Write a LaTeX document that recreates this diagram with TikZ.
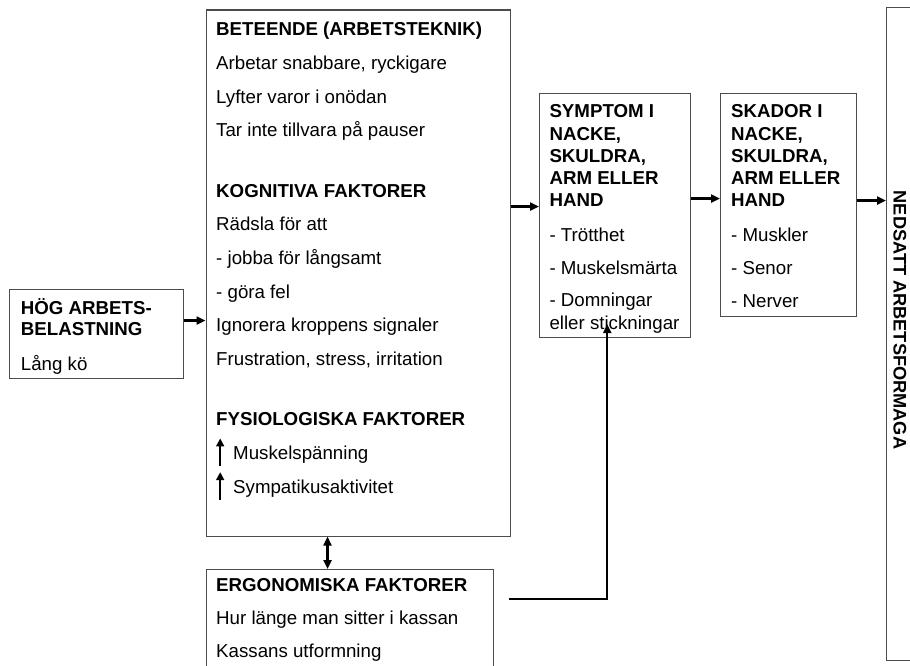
\documentclass[tikz,border=0pt]{standalone}
\usepackage{fontspec}
\setmainfont{Liberation Sans}
\usetikzlibrary{arrows.meta,positioning}
\newcommand{\upmark}{\tikz[baseline=0pt,x=1pt,y=1pt]\draw[line width=1.8pt,-{Triangle[length=8pt,width=8pt]}] (0,-7) -- (0,21);}

\begin{document}
\begin{tikzpicture}[x=1pt, y=-1pt,
    box/.style={draw=black!70, line width=1.1pt, inner sep=0pt, anchor=north west},
    txt/.style={anchor=north west, inner sep=0pt, align=left, font=\fontsize{18.7}{#1}\selectfont,
        execute at begin node={\rule{0pt}{17pt}}},
    conn/.style={line width=2.2pt, -{Triangle[length=9pt,width=8pt]}},
    link/.style={line width=2.2pt, {Triangle[length=9pt,width=8pt]}-{Triangle[length=9pt,width=8pt]}}]
    \useasboundingbox (0,0) rectangle (910,666);

    % boxes
    \node[box, minimum width=173.4, minimum height=88.4] (hog) at (9.3,289.3) {};
    \node[box, minimum width=304, minimum height=526] (mid) at (205.5,9.5) {};
    \node[box, minimum width=151, minimum height=244] (sym) at (539,93) {};
    \node[box, minimum width=136, minimum height=223] (skad) at (720,93) {};
    \node[box, minimum width=60, minimum height=653] (ned) at (886,7) {};
    \node[box, minimum width=287, minimum height=120] (ergo) at (205.5,569) {};

    % texts
    \node[txt=21] (hogtxt) at (20.7,298.7) {\textbf{HÖG ARBETS-}\\\textbf{BELASTNING}\\[14pt]Lång kö};
    \node[txt=33.7] (midtxt) at (216,22) {\textbf{BETEENDE (ARBETSTEKNIK)}\\Arbetar snabbare, ryckigare\\Lyfter varor i onödan\\Tar inte tillvara på pauser\\[26.5pt]\textbf{KOGNITIVA FAKTORER}\\Rädsla för att\\- jobba för långsamt\\- göra fel\\Ignorera kroppens signaler\\Frustration, stress, irritation\\[26.5pt]\textbf{FYSIOLOGISKA FAKTORER}\\\upmark\hspace{9pt}Muskelspänning\\\upmark\hspace{9pt}Sympatikusaktivitet};
    \node[txt=22.3] (symtxt) at (549.3,104.5) {\textbf{SYMPTOM I}\\\textbf{NACKE,}\\\textbf{SKULDRA,}\\\textbf{ARM ELLER}\\\textbf{HAND}\\[12.7pt]- Trötthet\\[10.7pt]- Muskelsmärta\\[9.7pt]- Domningar\\eller stickningar};
    \node[txt=22.3] (skadtxt) at (731,104.5) {\textbf{SKADOR I}\\\textbf{NACKE,}\\\textbf{SKULDRA,}\\\textbf{ARM ELLER}\\\textbf{HAND}\\[12.7pt]- Muskler\\[10.7pt]- Senor\\[10.7pt]- Nerver};
    \node[txt=33] (ergotxt) at (216,578.7) {\textbf{ERGONOMISKA FAKTORER}\\Hur länge man sitter i kassan\\Kassans utformning};
    \node[font=\bfseries\fontsize{18.2}{22}\selectfont, rotate=-90, inner sep=0pt] (nedtxt) at (900,320) {NEDSATT ARBETSFORMAGA};

    % connectors
    \draw[conn] ([yshift=13.5pt]hog.east) -- ([yshift=13.5pt]hog.east -| mid.west);
    \draw[conn] ([yshift=9pt]sym.west -| mid.east) -- ([yshift=9pt]sym.west);
    \draw[conn] ([yshift=17pt]sym.east) -- ([yshift=17pt]sym.east -| skad.west);
    \draw[conn] ([yshift=4.5pt]skad.east) -- ([yshift=4.5pt]skad.east -| ned.west);
    \draw[link] ([xshift=-30.5pt]mid.south) -- ([xshift=-30.5pt]mid.south |- ergo.north);
    \coordinate (ergoout) at (509,599);
    \draw[conn] (ergoout) -| ([xshift=-7.8pt,yshift=14pt]sym.south);
\end{tikzpicture}
\end{document}
